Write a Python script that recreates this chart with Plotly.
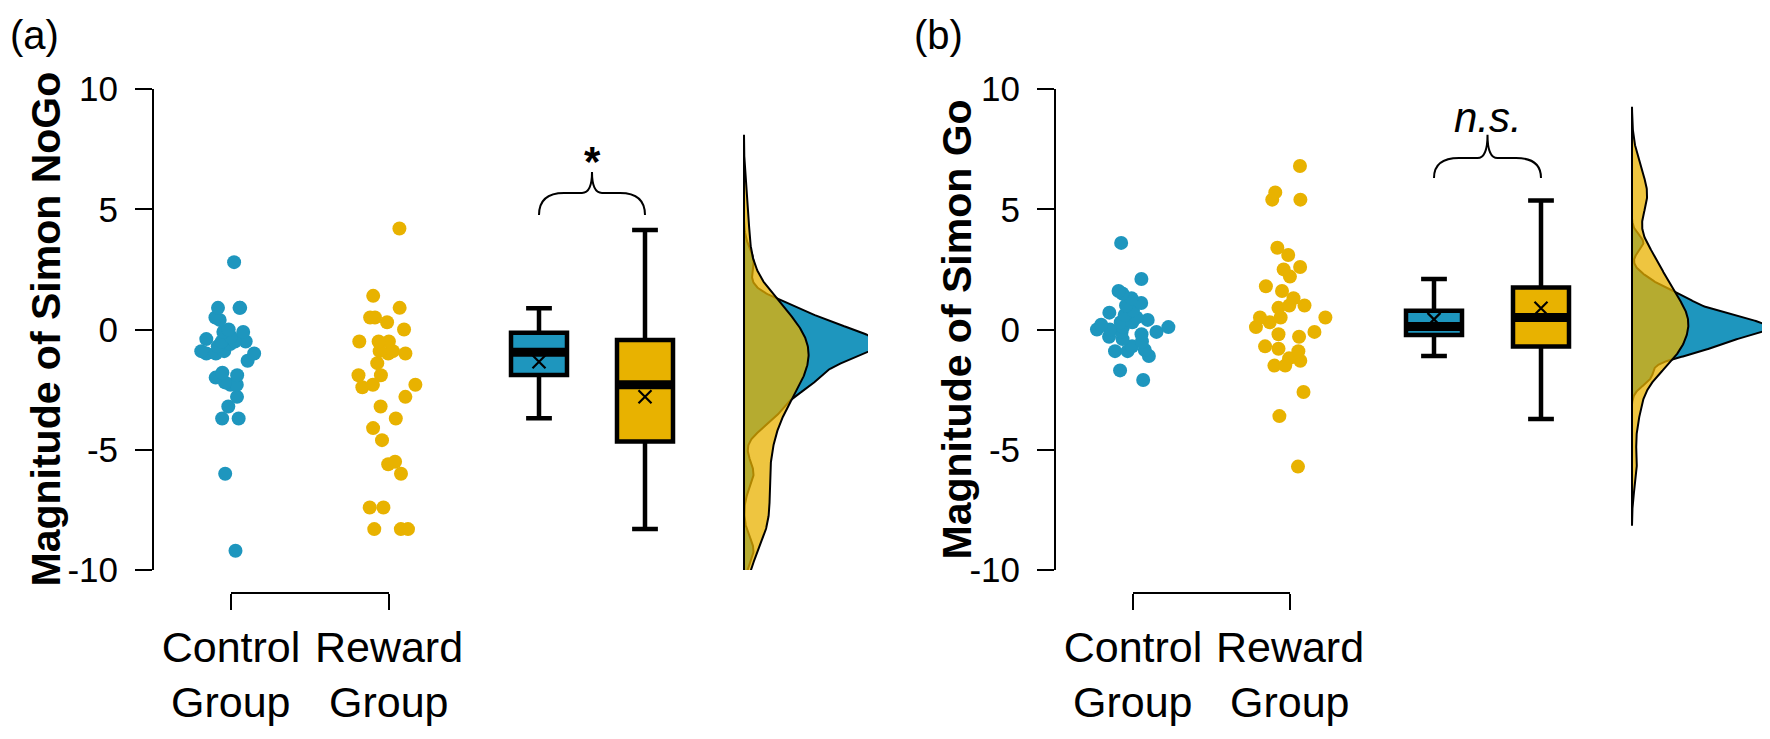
import numpy as np
import plotly.graph_objects as go

# ---------------- data ----------------
categories = ["Control Group", "Reward Group"]
panel_labels = ["(a)", "(b)"]
y_titles = ["Magnitude of Simon NoGo", "Magnitude of Simon Go"]
y_tick_vals = [-10, -5, 0, 5, 10]
y_tick_text = ["-10", "-5", "0", "5", "10"]
sig_labels = ["<b>*</b>", "<i>n.s.</i>"]

control_a = [2.8, 0.9, 0.9, 0.9, 0.5, 0.4, 0.0, -0.1, -0.1, -0.3, -0.4, -0.5, -0.5,
             -0.6, -0.5, -0.7, -0.9, -1.0, -0.9, -1.0, -1.0, -1.3, -1.8, -1.9, -2.0,
             -2.2, -2.3, -2.3, -2.8, -3.2, -3.7, -3.7, -6.0, -9.2]
reward_a = [4.2, 1.4, 0.9, 0.5, 0.5, 0.3, 0.0, -0.5, -0.5, -0.5, -0.9, -0.9, -1.0,
            -1.0, -1.4, -1.9, -1.9, -2.3, -2.3, -2.4, -2.8, -3.2, -3.7, -4.1, -4.6,
            -5.5, -5.6, -6.0, -7.4, -7.4, -8.3, -8.3, -8.3]
control_b = [3.6, 2.1, 1.5, 1.6, 1.3, 1.1, 1.0, 0.7, 0.6, 0.8, 0.1, 0.3, -0.1, 0.0,
             0.1, -0.1, 0.4, 0.2, -0.3, -0.7, -0.5, -0.9, -1.1, -0.85, -0.9, -0.2,
             0.5, -1.7, -2.1, 0.3, 0.0, -0.4]
reward_b = [6.8, 5.7, 5.4, 5.4, 3.4, 3.1, 2.6, 2.5, 2.2, 1.6, 1.8, 1.3, 1.0, 1.0,
            0.9, 0.3, 0.5, 0.5, 0.5, 0.1, -0.1, -0.3, -0.2, -0.9, -0.8, -0.7, -1.2,
            -1.3, -1.5, -1.5, -2.6, -3.6, -5.7]

# box statistics [control, reward]
box_q1_a = [-1.89, -4.66]
box_med_a = [-0.95, -2.30]
box_q3_a = [-0.13, -0.44]
box_lo_a = [-3.69, -8.30]
box_hi_a = [0.88, 4.14]
box_mean_a = [-1.34, -2.80]

box_q1_b = [-0.23, -0.71]
box_med_b = [0.12, 0.50]
box_q3_b = [0.78, 1.75]
box_lo_b = [-1.10, -3.72]
box_hi_b = [2.10, 5.36]
box_mean_b = [0.42, 0.88]

# ---------------- styling / layout constants ----------------
W, H = 1770, 739
PAGE_OFF = 8            # default body margin of the html page
FONT = "Liberation Sans, Arial, Helvetica, sans-serif"
BLUE = "rgb(30,150,190)"
YELLOW = "rgb(232,178,0)"
YELLOW_T = "rgba(232,178,0,0.75)"
COLS = [BLUE, YELLOW]


def fx(px):
    return (px - PAGE_OFF) / W


def fy(py):
    return 1 - (py - PAGE_OFF) / H


Y_TOP_PX, Y_BOT_PX = 89, 570
AXIS_X_PX = [154, 1056]
X_RANGE = 7.14
POS = [[0.77, 2.35, 3.85, 4.91, 5.90], [0.77, 2.34, 3.78, 4.85, 5.76]]
KDE_BW = [[0.58, 1.30], [0.34, 0.82]]
KDE_MAXW = [1.34, 1.36]
BRACE = [[4.76, 5.68, 6.55, 7.0], [6.30, 7.13, 8.10, 8.8]]
GROUP_AXIS_Y_PX = 593
GROUP_LINE2_TOP_PX = 676
TITLE_X_PX = [45, 956]
LETTER_X_PX = [8, 912]
LETTER_CY_PX = 35
TICK_FS, LABEL_FS, TITLE_FS = 35, 43, 41

yd = [fy(Y_BOT_PX), fy(Y_TOP_PX)]

panels = [
    dict(pts=[control_a, reward_a], q1=box_q1_a, med=box_med_a, q3=box_q3_a,
         lo=box_lo_a, hi=box_hi_a, mean=box_mean_a),
    dict(pts=[control_b, reward_b], q1=box_q1_b, med=box_med_b, q3=box_q3_b,
         lo=box_lo_b, hi=box_hi_b, mean=box_mean_b),
]


def kde(vals, bw, grid):
    v = np.asarray(vals, dtype=float)[:, None]
    z = (grid[None, :] - v) / bw
    return np.exp(-0.5 * z ** 2).sum(axis=0) / (len(vals) * bw * np.sqrt(2 * np.pi))


fig = go.Figure()
shapes, annotations = [], []
layout_axes = {}
BOX_W = 0.56

for p, pan in enumerate(panels):
    xa = "x" if p == 0 else "x2"
    ya = "y" if p == 0 else "y2"
    pos = POS[p]
    for g in range(2):
        fig.add_trace(go.Box(
            y=pan["pts"][g], x0=pos[g], xaxis=xa, yaxis=ya,
            boxpoints="all", jitter=1.0, pointpos=0, width=0.8,
            fillcolor="rgba(0,0,0,0)", line=dict(width=0, color="rgba(0,0,0,0)"),
            marker=dict(size=14, color=COLS[g], line=dict(width=0)),
            showlegend=False, hoverinfo="y"))
    for g in range(2):
        fig.add_trace(go.Box(
            x=[pos[2 + g]], q1=[pan["q1"][g]], median=[pan["med"][g]], q3=[pan["q3"][g]],
            lowerfence=[pan["lo"][g]], upperfence=[pan["hi"][g]],
            xaxis=xa, yaxis=ya, boxpoints=False, width=BOX_W, whiskerwidth=0.46,
            fillcolor=COLS[g], line=dict(color="black", width=4.5), showlegend=False))
        fig.add_trace(go.Scatter(
            x=[pos[2 + g] - BOX_W / 2, pos[2 + g] + BOX_W / 2],
            y=[pan["med"][g], pan["med"][g]], xaxis=xa, yaxis=ya, mode="lines",
            line=dict(color="black", width=9), showlegend=False, hoverinfo="skip"))
    fig.add_trace(go.Scatter(
        x=[pos[2], pos[3]], y=pan["mean"], xaxis=xa, yaxis=ya, mode="markers",
        marker=dict(symbol="x-thin", size=13, line=dict(width=2.2, color="black")),
        showlegend=False))
    dens = []
    for g in range(2):
        d = pan["pts"][g]
        bw = KDE_BW[p][g]
        grid = np.linspace(min(d) - 3 * bw, max(d) + 3 * bw, 500)
        dens.append((grid, kde(d, bw, grid)))
    scale = KDE_MAXW[p] / max(dd.max() for _, dd in dens)
    fills = [BLUE, YELLOW_T]
    for g in range(2):
        grid, dd = dens[g]
        xs = np.concatenate([[pos[4]], pos[4] + dd * scale, [pos[4], pos[4]]])
        ys = np.concatenate([[grid[0]], grid, [grid[-1], grid[0]]])
        fig.add_trace(go.Scatter(
            x=xs, y=ys, xaxis=xa, yaxis=ya, mode="lines", fill="toself",
            fillcolor=fills[g], line=dict(color="black", width=2),
            showlegend=False, hoverinfo="skip"))

    xl, xr = pos[2], pos[3]
    xm = (xl + xr) / 2
    ye, yh, yp, yt = BRACE[p]
    r, rt = 0.25, 0.10
    path = (f"M {xl},{ye} Q {xl},{yh} {xl + r},{yh} L {xm - rt},{yh} "
            f"Q {xm},{yh} {xm},{yp} Q {xm},{yh} {xm + rt},{yh} "
            f"L {xr - r},{yh} Q {xr},{yh} {xr},{ye}")
    shapes.append(dict(type="path", xref=xa, yref=ya, path=path,
                       line=dict(color="black", width=2)))
    annotations.append(dict(x=xm, y=yt, xref=xa, yref=ya, text=sig_labels[p],
                            showarrow=False, font=dict(family=FONT, size=42, color="black"),
                            xanchor="center", yanchor="middle"))

    x0px = AXIS_X_PX[p]
    xkey = "xaxis" if p == 0 else "xaxis2"
    ykey = "yaxis" if p == 0 else "yaxis2"
    layout_axes[xkey] = dict(domain=[fx(x0px), min(1.0, fx(x0px + X_RANGE * 100))],
                             range=[0, X_RANGE], visible=False, anchor=ya,
                             automargin=False)
    layout_axes[ykey] = dict(domain=yd, range=[-10, 10], anchor=xa, automargin=False,
                             tickvals=y_tick_vals, ticktext=y_tick_text,
                             ticks="outside", ticklen=17, tickwidth=2, tickcolor="black",
                             showline=True, linewidth=2, linecolor="black",
                             showgrid=False, zeroline=False, ticklabelstandoff=10,
                             tickfont=dict(family=FONT, size=TICK_FS, color="black"))
    gkey = "xaxis%d" % (3 + p)
    first_words = [c.split(" ")[0] for c in categories]
    second_words = [c.split(" ")[1] for c in categories]
    layout_axes[gkey] = dict(domain=[fx(x0px + pos[0] * 100), fx(x0px + pos[1] * 100)],
                             range=[0, 1], tickvals=[0, 1], ticktext=first_words,
                             anchor="free", position=fy(GROUP_AXIS_Y_PX),
                             automargin=False,
                             ticks="outside", ticklen=16, tickwidth=2, tickcolor="black",
                             showline=True, linewidth=2, linecolor="black",
                             showgrid=False, zeroline=False,
                             tickfont=dict(family=FONT, size=LABEL_FS, color="black"))
    fig.add_trace(go.Scatter(x=[None], y=[None], xaxis="x%d" % (3 + p), yaxis=ya,
                             showlegend=False, hoverinfo="skip"))
    for g in range(2):
        annotations.append(dict(x=g, y=fy(GROUP_LINE2_TOP_PX), xref="x%d" % (3 + p),
                                yref="paper", text=second_words[g], showarrow=False,
                                xanchor="center", yanchor="top",
                                font=dict(family=FONT, size=LABEL_FS, color="black")))

    annotations.append(dict(x=fx(TITLE_X_PX[p]), y=(yd[0] + yd[1]) / 2, xref="paper",
                            yref="paper", text="<b>%s</b>" % y_titles[p], textangle=-90,
                            showarrow=False, xanchor="center", yanchor="middle",
                            font=dict(family=FONT, size=TITLE_FS, color="black")))
    annotations.append(dict(x=fx(LETTER_X_PX[p]), y=fy(LETTER_CY_PX), xref="paper",
                            yref="paper", text=panel_labels[p], showarrow=False,
                            xanchor="left", yanchor="middle",
                            font=dict(family=FONT, size=40, color="black")))

fig.update_layout(
    template="none",
    width=W, height=H, margin=dict(l=0, r=0, t=0, b=0, autoexpand=False),
    paper_bgcolor="white", plot_bgcolor="rgba(0,0,0,0)",
    font=dict(family=FONT, color="black"),
    boxmode="overlay", showlegend=False,
    shapes=shapes, annotations=annotations, **layout_axes)

fig.write_html("out.html")
